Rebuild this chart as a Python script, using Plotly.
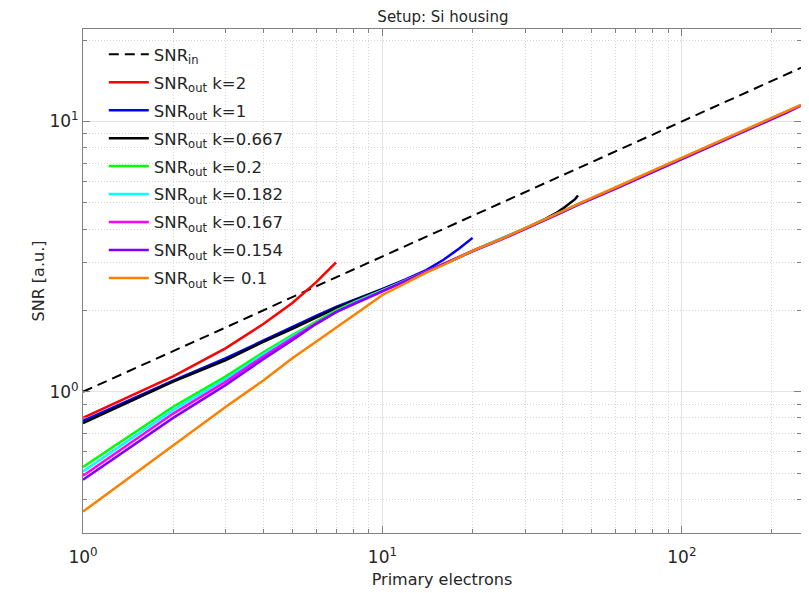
import plotly.graph_objects as go
import math

# ---------------- data ----------------
x_in = [1, 2, 3, 5, 7, 10, 20, 30, 50, 70, 100, 150, 200, 250]
snr_in = [1.0, 1.41, 1.73, 2.24, 2.65, 3.16, 4.47, 5.48, 7.07, 8.37, 10.0, 12.25, 14.14, 15.81]

x_k2 = [1, 2, 3, 4, 5, 6, 7]
snr_k2 = [0.80, 1.14, 1.45, 1.78, 2.13, 2.54, 3.01]

x_k1 = [1, 2, 3, 4, 5, 6, 7, 8, 9, 10, 12, 14, 16, 18, 20]
snr_k1 = [0.78, 1.10, 1.33, 1.55, 1.74, 1.91, 2.06, 2.18, 2.29, 2.40, 2.61, 2.82, 3.08, 3.38, 3.71]

x_k0667 = [1, 2, 3, 4, 5, 6, 7, 8, 9, 10, 12, 14, 16, 18, 20, 25, 30, 35, 38, 40, 42, 44, 45]
snr_k0667 = [0.765, 1.09, 1.31, 1.53, 1.71, 1.88, 2.04, 2.17, 2.28, 2.39, 2.59, 2.78, 2.96,
             3.14, 3.32, 3.68, 4.02, 4.36, 4.58, 4.76, 4.95, 5.16, 5.32]

x_tail = [1, 2, 3, 4, 5, 6, 7, 8, 9, 10, 12, 14, 16, 18, 20, 25, 30, 35, 40, 45, 50, 60, 70,
          80, 90, 100, 120, 140, 160, 180, 200, 225, 250]
snr_k02 = [0.527, 0.88, 1.14, 1.40, 1.62, 1.82, 2.00, 2.14, 2.26, 2.37, 2.58, 2.78, 2.96, 3.14,
           3.32, 3.68, 4.02, 4.34, 4.65, 4.95, 5.20, 5.68, 6.14, 6.55, 6.95, 7.32, 8.00, 8.64,
           9.22, 9.76, 10.30, 10.90, 11.50]
snr_k0182 = [0.507, 0.855, 1.115, 1.375, 1.60, 1.80, 1.98, 2.13, 2.25, 2.36, 2.58, 2.78, 2.96,
             3.14, 3.32, 3.68, 4.02, 4.34, 4.65, 4.95, 5.20, 5.68, 6.13, 6.55, 6.95, 7.32, 8.00,
             8.63, 9.21, 9.76, 10.30, 10.90, 11.50]
snr_k0167 = [0.489, 0.83, 1.09, 1.35, 1.58, 1.79, 1.97, 2.12, 2.24, 2.36, 2.58, 2.78, 2.96,
             3.14, 3.32, 3.67, 4.01, 4.33, 4.64, 4.94, 5.19, 5.66, 6.11, 6.52, 6.92, 7.29, 7.97,
             8.60, 9.18, 9.72, 10.26, 10.86, 11.47]
snr_k0154 = [0.472, 0.80, 1.06, 1.32, 1.55, 1.78, 1.97, 2.11, 2.24, 2.35, 2.57, 2.77, 2.95,
             3.13, 3.31, 3.66, 4.00, 4.32, 4.62, 4.92, 5.16, 5.63, 6.08, 6.49, 6.88, 7.25, 7.93,
             8.56, 9.14, 9.68, 10.22, 10.82, 11.44]
snr_k01 = [0.36, 0.63, 0.88, 1.10, 1.33, 1.53, 1.73, 1.91, 2.10, 2.28, 2.53, 2.76, 2.95, 3.13,
           3.32, 3.68, 4.02, 4.35, 4.66, 4.96, 5.22, 5.70, 6.17, 6.58, 6.97, 7.34, 8.02, 8.66,
           9.24, 9.78, 10.32, 10.92, 11.52]

x_ticks = [1, 10, 100]
x_ticktext = ["10<sup>0</sup>", "10<sup>1</sup>", "10<sup>2</sup>"]
x_minor = [2, 3, 4, 5, 6, 7, 8, 9, 20, 30, 40, 50, 60, 70, 80, 90, 200]
y_ticks = [1, 10]
y_ticktext = ["10<sup>0</sup>", "10<sup>1</sup>"]
y_minor = [0.3, 0.4, 0.5, 0.6, 0.7, 0.8, 0.9, 2, 3, 4, 5, 6, 7, 8, 9, 20]

x_range = [1, 250]
y_range = [0.3, 22]

series = [
    ("SNR<sub>in</sub>", x_in, snr_in, "black", "10px,6px"),
    ("SNR<sub>out</sub> k=2", x_k2, snr_k2, "#ff0000", "solid"),
    ("SNR<sub>out</sub> k=1", x_k1, snr_k1, "#0000ff", "solid"),
    ("SNR<sub>out</sub> k=0.667", x_k0667, snr_k0667, "#000000", "solid"),
    ("SNR<sub>out</sub> k=0.2", x_tail, snr_k02, "#00ff00", "solid"),
    ("SNR<sub>out</sub> k=0.182", x_tail, snr_k0182, "#00ffff", "solid"),
    ("SNR<sub>out</sub> k=0.167", x_tail, snr_k0167, "#ff00ff", "solid"),
    ("SNR<sub>out</sub> k=0.154", x_tail, snr_k0154, "#8000ff", "solid"),
    ("SNR<sub>out</sub> k= 0.1", x_tail, snr_k01, "#ff8000", "solid"),
]

fig = go.Figure()
for i, (name, xs, ys, col, dash) in enumerate(series):
    fig.add_trace(go.Scatter(
        x=xs, y=ys, mode="lines", name=name,
        line=dict(color=col, width=2.5 if dash == "solid" else 2, dash=dash),
        legendgroup=str(i),
    ))

txt = "#262626"
axcol = "#808080"
grid = "#e3e3e3"
minorgrid = "#d6d6d6"

common = dict(
    type="log", showline=True, linecolor=axcol, linewidth=1, mirror="ticks",
    ticks="inside", ticklen=7, tickcolor=axcol, tickwidth=1,
    showgrid=True, gridcolor=grid, gridwidth=1, automargin=False,
    tickfont=dict(size=17, color=txt), zeroline=False,
)

fig.update_xaxes(
    **common,
    range=[math.log10(x_range[0]), math.log10(x_range[1])],
    tickmode="array", tickvals=x_ticks, ticktext=x_ticktext, ticklabelstandoff=9,
    minor=dict(tickmode="array", tickvals=x_minor, ticks="inside", ticklen=4,
               tickcolor=axcol, showgrid=True, gridcolor=minorgrid, griddash="1px,2px"),
    title=dict(text="Primary electrons", font=dict(size=16, color=txt), standoff=7),
)
fig.update_yaxes(
    **common,
    range=[math.log10(y_range[0]), math.log10(y_range[1])],
    tickmode="array", tickvals=y_ticks, ticktext=y_ticktext,
    minor=dict(tickmode="array", tickvals=y_minor, ticks="inside", ticklen=4,
               tickcolor=axcol, showgrid=True, gridcolor=minorgrid, griddash="1px,2px"),
    title=dict(text="SNR [a.u.]", font=dict(size=16, color=txt), standoff=0),
)

# The page body adds an 8px offset, so the figure is sized/margined to compensate.
fig.update_layout(
    width=801, height=585,
    margin=dict(l=75, r=8, t=21, b=60, autoexpand=False),
    paper_bgcolor="white", plot_bgcolor="white",
    font=dict(family="DejaVu Sans", color=txt),
    title=dict(text="Setup: Si housing", x=0.543, xanchor="center", y=0.994, yanchor="top",
               font=dict(size=15, color=txt), automargin=False),
    legend=dict(x=0.029, y=0.984, xanchor="left", yanchor="top",
                bgcolor="rgba(0,0,0,0)", borderwidth=0, itemwidth=40,
                font=dict(size=16.5, color=txt), tracegroupgap=3.5),
    showlegend=True,
)

fig.write_html("out.html")
